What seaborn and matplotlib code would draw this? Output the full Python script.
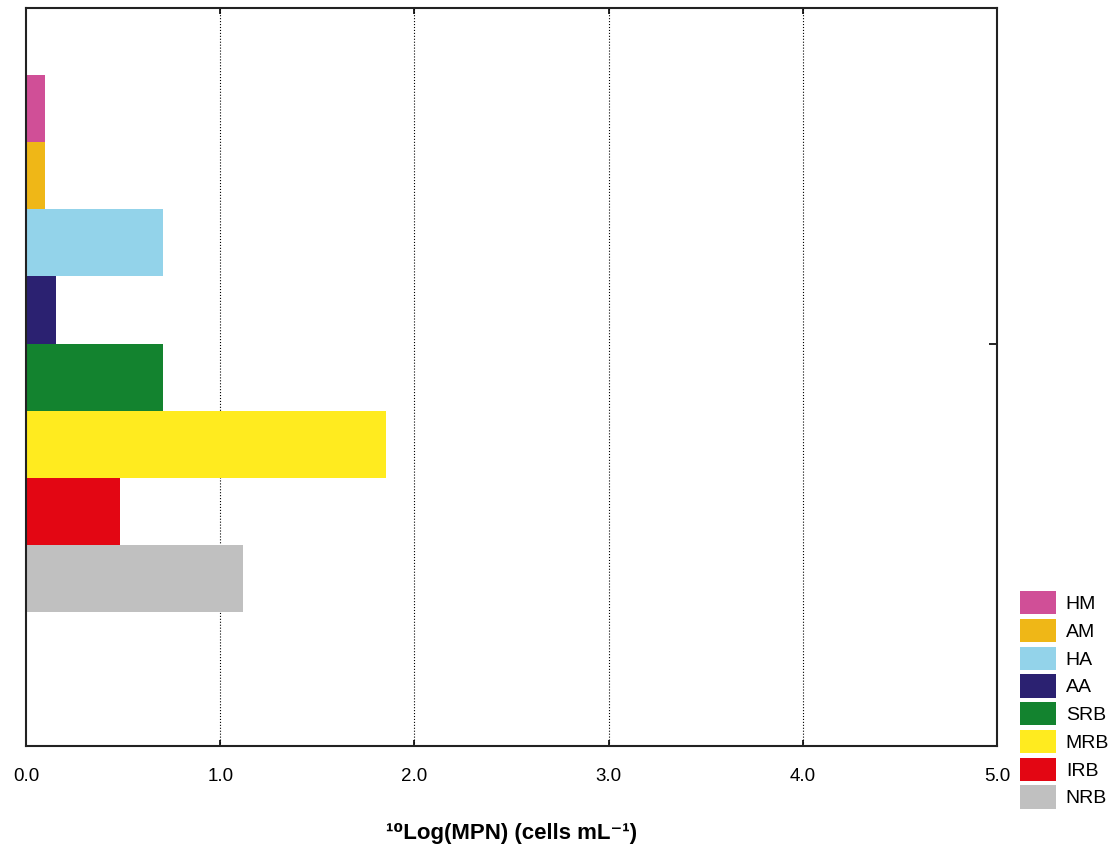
import pandas as pd
import seaborn as sns
import matplotlib.pyplot as plt

# groups of microorganisms and their 10log(MPN) values
groups = ['HM', 'AM', 'HA', 'AA', 'SRB', 'MRB', 'IRB', 'NRB']
log_mpn = [0.10, 0.10, 0.705, 0.155, 0.705, 1.855, 0.485, 1.115]
colors = ['#d04f97', '#efb717', '#93d3ea', '#2b2171', '#13832f', '#ffeb1f', '#e30613', '#c0c0c0']
xticks = [0, 1, 2, 3, 4, 5]

df = pd.DataFrame({'sample': [''] * len(groups), 'group': groups, 'value': log_mpn})

sns.set_style('white')
plt.rcParams['font.family'] = ['Liberation Sans', 'DejaVu Sans']
plt.rcParams['text.color'] = 'black'

fig = plt.figure(figsize=(11.1, 8.44), dpi=100)
ax = fig.add_axes([0.0234, 0.116, 0.875, 0.8745])

sns.barplot(data=df, x='value', y='sample', hue='group', hue_order=groups,
            palette=colors, orient='h', width=0.8, linewidth=0, saturation=1, ax=ax)

# dotted grid behind the bars, ticks stay on top
for x in xticks[1:-1]:
    ax.axvline(x, color='black', linestyle=':', linewidth=0.8, zorder=0.5)

ax.set_ylim(0.6, -0.5)
ax.set_xlim(0, 5)
ax.set_xticks(xticks)
ax.set_xticklabels([f'{t:.1f}' for t in xticks], fontsize=13.5)
ax.set_yticks([0])
ax.set_yticklabels([''])
ax.set_ylabel('')
ax.set_xlabel('¹⁰Log(MPN) (cells mL⁻¹)', fontsize=16, fontweight='bold', labelpad=27,
              color='black')

ax.tick_params(axis='x', direction='in', top=True, bottom=True, length=4, width=1.2,
               pad=16, colors='black')
ax.tick_params(axis='y', direction='in', left=True, right=True, length=6, width=1.2,
               colors='black')
for sp in ax.spines.values():
    sp.set_visible(True)
    sp.set_color('#222222')
    sp.set_linewidth(1.5)

handles, labels = ax.get_legend_handles_labels()
ax.get_legend().remove()
leg = fig.legend(handles, labels, loc='lower left', bbox_to_anchor=(0.919, 0.042),
                 frameon=False, fontsize=14, handlelength=1.85, handleheight=1.45,
                 labelspacing=0.24, handletextpad=0.5, borderaxespad=0, borderpad=0)
for t in leg.get_texts():
    t.set_color('black')

fig.savefig('out.png', dpi=100)
